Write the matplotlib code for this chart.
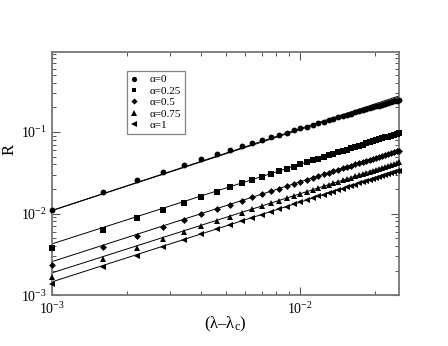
import matplotlib
matplotlib.use("Agg")
import matplotlib.pyplot as plt

plt.rcParams['font.family'] = ['Liberation Serif', 'DejaVu Serif']
plt.rcParams['mathtext.fontset'] = 'custom'
plt.rcParams['mathtext.rm'] = 'Liberation Serif'
plt.rcParams['mathtext.it'] = 'Liberation Serif:italic'

x = [0.0010, 0.0016, 0.0022, 0.0028, 0.0034, 0.0040, 0.0046, 0.0052, 0.0058, 0.0064,
     0.0070, 0.0076, 0.0082, 0.0088, 0.0094, 0.0100, 0.0106, 0.0112, 0.0118, 0.0124,
     0.0130, 0.0136, 0.0142, 0.0148, 0.0154, 0.0160, 0.0166, 0.0172, 0.0178, 0.0184,
     0.0190, 0.0196, 0.0202, 0.0208, 0.0214, 0.0220, 0.0226, 0.0232, 0.0238, 0.0244,
     0.0250]

r_a0 = [0.01119, 0.01845, 0.02563, 0.03273, 0.03972, 0.04661, 0.05339, 0.06007, 0.06668, 0.0732,
        0.0796, 0.0860, 0.0922, 0.0985, 0.1046, 0.1107, 0.1167, 0.1226, 0.1285, 0.1344,
        0.1401, 0.1459, 0.1516, 0.1572, 0.1628, 0.1684, 0.1739, 0.1793, 0.1848, 0.1901,
        0.1955, 0.2008, 0.2061, 0.2113, 0.2165, 0.2217, 0.2268, 0.2319, 0.2370, 0.2420,
        0.2470]
r_a025 = [0.003828, 0.006277, 0.008733, 0.01119, 0.01365, 0.01609, 0.01854, 0.02097, 0.02339, 0.0258,
          0.02819, 0.03059, 0.03298, 0.03536, 0.03772, 0.04009, 0.04244, 0.04479, 0.04712, 0.04945,
          0.05177, 0.05409, 0.05641, 0.05871, 0.06101, 0.06329, 0.06559, 0.06785, 0.07014, 0.0724,
          0.07467, 0.07691, 0.07916, 0.08141, 0.08363, 0.08585, 0.0881, 0.09031, 0.09257, 0.09476,
          0.09696]
r_a05 = [0.002366, 0.003862, 0.005362, 0.006864, 0.00836, 0.009851, 0.011337, 0.01282, 0.0143, 0.01577,
         0.01723, 0.01869, 0.02015, 0.0216, 0.02305, 0.02449, 0.02593, 0.02736, 0.02879, 0.03021,
         0.03164, 0.03305, 0.03447, 0.03589, 0.03728, 0.03869, 0.04009, 0.04148, 0.04287, 0.04426,
         0.04565, 0.04703, 0.04842, 0.04979, 0.05115, 0.05252, 0.0539, 0.05526, 0.05663, 0.05799,
         0.05934]
r_a075 = [0.001671, 0.00274, 0.003812, 0.004884, 0.005958, 0.007023, 0.008093, 0.009153, 0.01021, 0.01126,
          0.0123, 0.01335, 0.0144, 0.01543, 0.01646, 0.0175, 0.01853, 0.01955, 0.02057, 0.02159,
          0.0226, 0.02361, 0.02462, 0.02563, 0.02663, 0.02763, 0.02863, 0.02962, 0.03062, 0.0316,
          0.03259, 0.03357, 0.03455, 0.03554, 0.0365, 0.03747, 0.03846, 0.03942, 0.04041, 0.04136,
          0.04232]
r_a1 = [0.001371, 0.002215, 0.003058, 0.003899, 0.004738, 0.005574, 0.006409, 0.007238, 0.008067, 0.008894,
        0.009716, 0.010537, 0.011355, 0.012176, 0.012991, 0.0138, 0.014617, 0.015428, 0.016236, 0.01704,
        0.017842, 0.018644, 0.019451, 0.020255, 0.021049, 0.021845, 0.022643, 0.023433, 0.024228, 0.025016,
        0.025811, 0.026601, 0.027384, 0.028177, 0.02896, 0.029743, 0.030527, 0.031302, 0.032082, 0.032867,
        0.033632]

labels = ['α=0', 'α=0.25', 'α=0.5', 'α=0.75', 'α=1']
markers = ['o', 's', 'D', '^', '<']
series = [r_a0, r_a025, r_a05, r_a075, r_a1]

# power-law fit lines (end points at x range limits)
fit_x = [0.001, 0.025]
fit_lines = [
    [0.0109, 0.277],
    [0.0109, 0.267],
    [0.00425, 0.0989],
    [0.002576, 0.0603],
    [0.001875, 0.0427],
    [0.001455, 0.0339],
]

fig = plt.figure(figsize=(4.48, 3.46), dpi=100)
ax = fig.add_axes([0.116, 0.147, 0.775, 0.703])

for fl in fit_lines:
    ax.plot(fit_x, fl, color='black', lw=0.7, zorder=2)

msizes = [4.2, 3.8, 3.5, 4.2, 4.2]
for ys, m, lab, ms in zip(series, markers, labels, msizes):
    ax.plot(x, ys, linestyle='none', marker=m, markersize=ms, color='black',
            markeredgewidth=0, label=lab, zorder=3, clip_on=False)

ax.set_xscale('log')
ax.set_yscale('log')
ax.set_xlim(0.001, 0.025)
ax.set_ylim(0.001, 0.96)

ax.tick_params(which='both', direction='in', top=True, right=True, labelsize=10, colors='black')
ax.tick_params(which='major', length=6, width=0.8, pad=4)
ax.tick_params(which='minor', length=3, width=0.7)
for sp in ax.spines.values():
    sp.set_color('#777777')
    sp.set_linewidth(1.3)
ax.tick_params(which='both', color='#555555')

ax.set_xlabel('(λ–λ$_{\\rm c}$)', fontsize=12)
ax.xaxis.set_label_coords(0.5, -0.08)
ax.set_ylabel('R', fontsize=12)
ax.yaxis.set_label_coords(-0.098, 0.6)

leg = ax.legend(loc='upper left', bbox_to_anchor=(0.215, 0.92), frameon=True, fancybox=False,
                fontsize=8, handlelength=0.8, handletextpad=1.0, borderpad=0.3,
                labelspacing=0.15, markerscale=0.9, borderaxespad=0)
leg.get_frame().set_edgecolor('#666666')
leg.get_frame().set_linewidth(0.9)

fig.savefig('out.png', dpi=100)
